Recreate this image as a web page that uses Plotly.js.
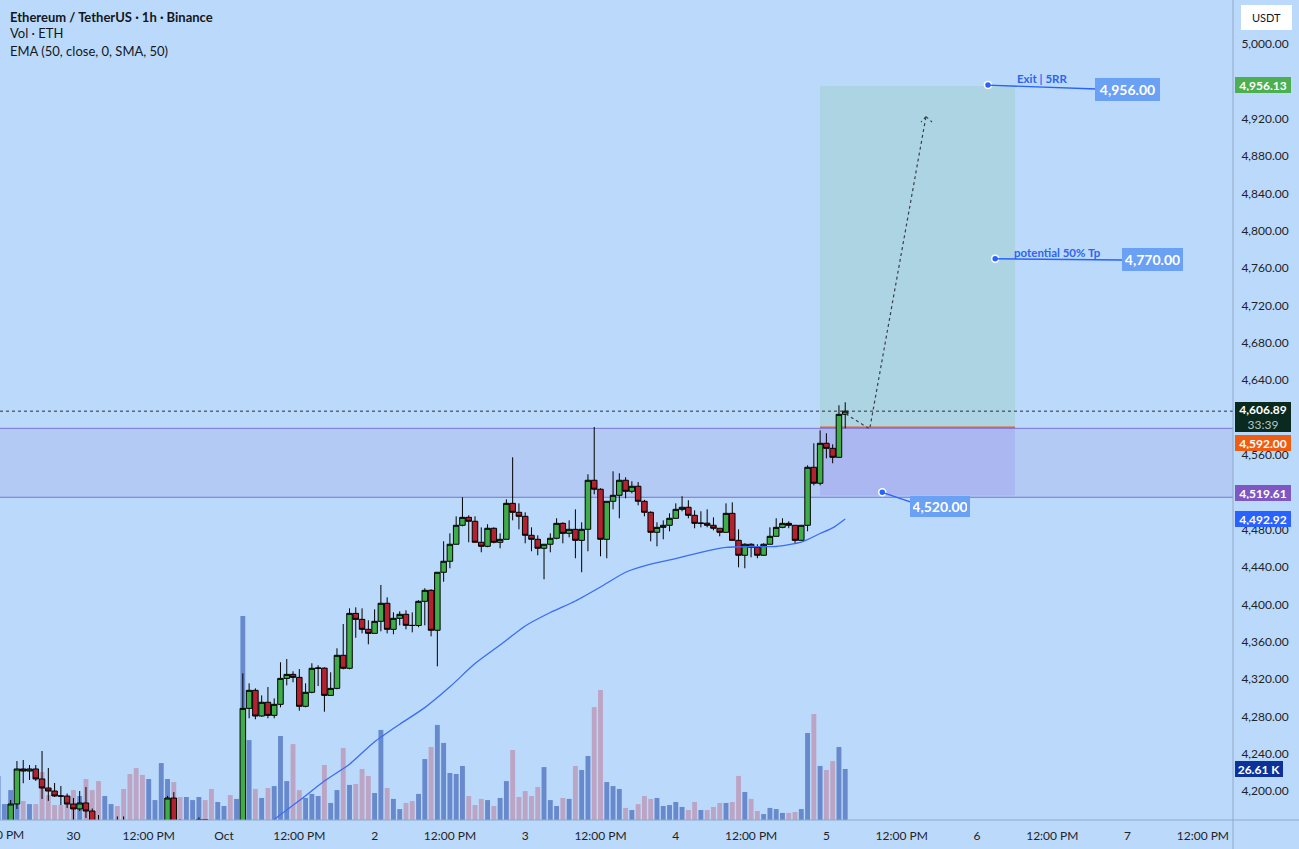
<!DOCTYPE html>
<html><head><meta charset="utf-8">
<script src="https://cdn.plot.ly/plotly-3.0.1.min.js"></script>
<style>html,body{margin:0;padding:0;background:#bbdafb;} #chart{width:1299px;height:849px;}</style>
</head><body><div id="chart"></div>
<script>
// ---------- DATA (ETH/USDT 1h, Binance) ----------
const firstHour = -36; // hours relative to 1 Oct 00:00 (first candle = 29 Sep 12:00)
const opens = [4140,4150,4163,4186.3,4223.8,4221.6,4223.8,4213.1,4203.4,4200.2,4194.9,4194.8,4186.3,4181.0,4187.4,4178.8,4150,4140,4150,4158,4148,4135,4125,4112,4105,4125,4135,4160,4192.7,4160,4150,4158,4163,4169.5,4160,4150,4158,4163,4155,4162,
4288.7,4308.0,4280.5,4295.2,4281.2,4293.0,4320.8,4325.1,4321.9,4290.9,4305.9,4331.6,4331.8,4302.6,4310.1,4345.5,4331.6,4390.4,4384.0,4373.3,4369.0,4381.9,4401.2,4373.3,4385.1,4389.4,4377.6,4377.4,4403.3,4415.1,4372.3,4434.4,4446.2,4464.4,4484.7,4493.2,4489.0,4466.5,4462.2,4481.5,4466.5,4469.7,4508.2,4498.6,4494.3,4474.0,4469.7,4460.1,4464.4,4470.8,4486.8,4476.1,4480.4,4468.6,4480.4,4532.9,4523.3,4469.7,4510.4,4516.8,4532.9,4521.1,4526.5,4510.4,4498.6,4477.2,4482.5,4484.7,4492.2,4501.8,4504.0,4495.4,4486.8,4487.0,4484.7,4481.5,4477.2,4497.5,4468.6,4452.6,4464.4,4461.2,4452.6,4464.4,4472.9,4482.5,4486.8,4484.7,4468.6,4484.7,4546.8,4529.7,4572.5,4567.1,4557.5,4603.5];
const highs = [4155,4168,4190.6,4232.3,4233.4,4228.0,4228.0,4243.0,4224.8,4208.8,4205.6,4197.5,4192.7,4200.2,4204.5,4181.5,4174.5,4160,4164,4173,4173,4140,4130,4120,4130,4140,4165,4195.0,4199.0,4170,4165,4167,4172,4170,4165,4163,4166,4167,4166,4326.2,
4315.5,4310.1,4302.6,4311.5,4299.4,4338.0,4341.5,4328.4,4330.8,4315.5,4337.0,4334.8,4332.6,4327.3,4353.0,4379.0,4395.8,4396.9,4395.8,4383.0,4394.7,4420.8,4407.6,4391.5,4392.6,4393.7,4391.5,4404.4,4417.3,4416.2,4434.4,4467.6,4476.1,4494.3,4514.7,4495.4,4494.3,4482.5,4485.8,4482.5,4476.1,4512.5,4557.5,4508.2,4498.6,4482.5,4474.0,4464.4,4476.1,4492.2,4487.9,4490.0,4501.8,4487.9,4539.3,4589.9,4524.3,4510.4,4542.5,4540.4,4536.1,4531.8,4531.0,4512.0,4499.7,4487.9,4490.0,4497.5,4508.2,4515.8,4511.5,4500.7,4499.7,4501.8,4493.2,4481.5,4508.2,4509.3,4480.4,4465.4,4465.4,4464.4,4465.4,4482.5,4492.2,4492.2,4489.0,4484.7,4484.7,4548.9,4572.5,4586.4,4583.2,4571.4,4613.2,4616.4];
const lows = [4135,4146,4158,4181.0,4208.5,4212.0,4211.0,4191.7,4189.6,4193.8,4185.2,4182.0,4160.0,4178.8,4171.3,4145,4130,4135,4145,4140,4125,4115,4100,4095,4100,4120,4130,4155,4150,4140,4145,4150,4158,4150,4140,4145,4150,4148,4150,4158,
4278.1,4277.0,4279.8,4278.1,4278.1,4289.8,4313.3,4316.6,4286.2,4289.8,4304.8,4312.6,4285.1,4302.6,4309.1,4330.5,4330.5,4364.3,4369.0,4357.3,4369.0,4371.2,4369.0,4368.0,4377.6,4373.3,4370.1,4375.5,4377.6,4365.8,4333.7,4424.3,4438.7,4464.4,4483.6,4466.5,4466.5,4455.8,4461.2,4465.4,4460.1,4469.7,4490.0,4480.4,4465.4,4456.9,4452.6,4426.9,4455.8,4469.7,4465.4,4471.8,4449.4,4434.4,4456.9,4517.9,4451.5,4449.4,4501.8,4492.2,4513.6,4519.0,4506.1,4494.3,4467.6,4462.2,4469.7,4478.3,4492.2,4499.7,4492.2,4481.5,4482.5,4482.5,4479.3,4472.9,4477.2,4468.6,4439.7,4438.7,4450.4,4449.4,4452.0,4464.4,4472.9,4481.5,4481.5,4465.4,4468.6,4478.3,4527.5,4527.5,4556.4,4551.1,4557.5,4588.5];
const closes = [4150,4163,4186.3,4223.8,4221.6,4223.8,4213.1,4203.4,4200.2,4194.9,4194.8,4186.3,4181.0,4187.4,4178.8,4150,4140,4150,4158,4148,4135,4125,4112,4105,4125,4135,4160,4192.7,4160,4150,4158,4163,4169.5,4160,4150,4158,4163,4155,4162,4288.7,
4308.0,4280.5,4295.2,4281.2,4293.0,4320.8,4325.1,4321.9,4290.9,4305.9,4331.6,4331.8,4302.6,4310.1,4345.5,4331.6,4390.4,4384.0,4373.3,4369.0,4381.9,4401.2,4373.3,4385.1,4389.4,4377.6,4377.4,4403.3,4415.1,4372.3,4434.4,4446.2,4464.4,4484.7,4493.2,4489.0,4466.5,4462.2,4481.5,4466.5,4469.7,4508.2,4498.6,4494.3,4474.0,4469.7,4460.1,4464.4,4470.8,4486.8,4476.1,4480.4,4468.6,4480.4,4532.9,4523.3,4469.7,4510.4,4516.8,4532.9,4521.1,4526.5,4510.4,4498.6,4477.2,4482.5,4484.7,4492.2,4501.8,4504.0,4495.4,4486.8,4487.0,4484.7,4481.5,4477.2,4497.5,4468.6,4452.6,4464.4,4461.2,4452.6,4464.4,4472.9,4482.5,4486.8,4484.7,4468.6,4484.7,4546.8,4529.7,4572.5,4567.1,4557.5,4603.5,4606.89];
const volumesK = [23.0,8.3,15.6,14.0,9.9,8.3,8.3,25.0,13.0,7.8,7.8,9.0,15.6,12.5,21.4,15.6,20.3,12.5,8.3,7.3,16.2,24.0,27.1,23.5,21.4,10.4,29.7,21.4,19.8,12.0,12.0,10.4,12.0,10.4,16.2,9.4,7.3,13.0,11.0,106.4,
41.7,16.2,11.5,16.7,17.7,43.8,20.3,39.6,15.6,11.5,13.6,12.5,28.7,8.9,15.6,37.6,18.3,18.8,26.6,23.0,14.1,47.0,16.7,11.0,5.7,8.9,9.9,13.6,31.8,38.1,49.6,40.2,24.5,24.0,28.2,12.5,7.8,11.0,10.4,7.3,11.5,20.3,36.5,12.0,15.1,12.5,17.2,27.6,10.4,7.3,11.5,11.0,28.2,26.1,33.4,58.9,67.8,19.8,17.7,16.2,6.3,5.2,8.3,12.5,11.0,11.5,7.3,7.8,9.4,6.8,5.2,9.4,5.2,5.2,6.8,8.9,8.9,9.4,23.0,14.6,11.0,4.7,3.1,6.3,5.7,3.7,3.7,4.2,5.7,45.4,55.3,28.2,26.1,30.8,38.1,26.61];
// EMA(50)
const emaHours  = [6,8,12,16,20,24,28,32,36,40,44,48,52,56,60,64,68,72,76,80,84,88,92,95,97,99];
const emaValues = [4158.5,4169.8,4190.0,4210.9,4228.9,4252.9,4271.7,4289.5,4311.8,4336.6,4356.5,4376.9,4391.3,4403.6,4418.6,4434.4,4443.0,4449.0,4455.8,4461.1,4461.8,4462.0,4466.6,4475.9,4481.9,4491.5];
// x ticks
const tickHours  = [-24,-12,0,12,24,36,48,60,72,84,96,108,120,132,144,156];
const tickLabels = ["30","12:00 PM","Oct","12:00 PM","2","12:00 PM","3","12:00 PM","4","12:00 PM","5","12:00 PM","6","12:00 PM","7","12:00 PM"];
// price ticks (4,600 and 4,520 sit fully behind the price tags, so they are not drawn)
const priceTicks = [4200,4240,4280,4320,4360,4400,4440,4480,4560,4640,4680,4720,4760,4800,4840,4880,4920,4960,5000];
// levels
const currentPrice = 4606.89, countdown = "33:39";
const entryLabel = 4592.00, bandLabel = 4519.61, emaLabel = 4492.92, volLabel = 26.61, targetLabel = 4956.13;
const bandTop = 4588.5, bandBottom = 4514.7;
const zoneStart = 94.98, zoneEnd = 126.06, zoneTarget = 4955.0, zoneEntry = 4589.6, zoneStop = 4516.5;
const exitLevel = 4956.00, tpLevel = 4770.00, stopLevel = 4520.00;
const arrowHours  = [99.1, 102.9, 111.87, null, 111.87, 111.08, null, 111.87, 112.83];
const arrowPrices = [4603.9, 4587.8, 4922.2, null, 4922.2, 4916.5, null, 4922.2, 4916.5];

// ---------- helpers ----------
const T0 = Date.UTC(2025, 9, 1, 0, 0, 0);
function hr(t){ return new Date(T0 + t*3600000).toISOString().slice(0,19).replace('T',' '); }
const times = opens.map((_, i) => hr(firstHour + i));
const volColors = opens.map((o, i) => closes[i] >= o ? '#6889cc' : '#bca5c4');
const FONT = 'Lato, "Noto Sans", sans-serif';

const traces = [
  {type:'bar', x:times, y:volumesK, marker:{color:volColors, line:{width:0}}, yaxis:'y', hoverinfo:'skip'},
  {type:'candlestick', x:times, open:opens, high:highs, low:lows, close:closes, yaxis:'y2',
   increasing:{fillcolor:'#3fac4a', line:{color:'#000', width:1}},
   decreasing:{fillcolor:'#b3222f', line:{color:'#000', width:1}}, whiskerwidth:0, hoverinfo:'skip'},
  {type:'scatter', mode:'lines', x:emaHours.map(hr), y:emaValues, yaxis:'y2', line:{color:'#3a6cf4', width:1.3, shape:'spline', smoothing:0.6}, hoverinfo:'skip'},
  {type:'scatter', mode:'lines', x:arrowHours.map(t => t === null ? null : hr(t)), y:arrowPrices, yaxis:'y2', connectgaps:false, line:{color:'#3b3f4a', width:1.2, dash:'dot'}, hoverinfo:'skip'},
  {type:'scatter', mode:'markers', x:[hr(121.75), hr(122.9), hr(104.9)], y:[exitLevel, tpLevel, stopLevel], yaxis:'y2',
   marker:{size:7, color:'#2962ff', line:{color:'#ffffff', width:1.5}}, hoverinfo:'skip'}
];

const shapes = [
  {type:'rect', xref:'paper', x0:0, x1:1, yref:'y2', y0:bandBottom, y1:bandTop, fillcolor:'rgba(126,87,194,0.12)', line:{width:0}, layer:'below'},
  {type:'line', xref:'paper', x0:0, x1:1, yref:'y2', y0:bandTop, y1:bandTop, line:{color:'#7b74d1', width:1}, layer:'below'},
  {type:'line', xref:'paper', x0:0, x1:1, yref:'y2', y0:bandBottom, y1:bandBottom, line:{color:'#7b74d1', width:1}, layer:'below'},
  {type:'rect', xref:'x', x0:hr(zoneStart), x1:hr(zoneEnd), yref:'y2', y0:zoneEntry, y1:zoneTarget, fillcolor:'rgba(120,190,130,0.2)', line:{width:0}, layer:'below'},
  {type:'rect', xref:'x', x0:hr(zoneStart), x1:hr(zoneEnd), yref:'y2', y0:zoneStop, y1:zoneEntry, fillcolor:'rgba(140,100,220,0.18)', line:{width:0}, layer:'below'},
  {type:'line', xref:'x', x0:hr(zoneStart), x1:hr(zoneEnd), yref:'y2', y0:zoneEntry, y1:zoneEntry, line:{color:'#f0611c', width:1.5}, layer:'below'},
  {type:'line', xref:'paper', x0:0, x1:1, yref:'y2', y0:currentPrice, y1:currentPrice, line:{color:'#2a2e39', width:1, dash:'dot'}, layer:'above'},
  {type:'line', xref:'x', yref:'y2', x0:hr(121.75), y0:exitLevel, x1:hr(139.0), y1:4951.8, line:{color:'#2962ff', width:1.4}},
  {type:'line', xref:'x', yref:'y2', x0:hr(122.9), y0:tpLevel, x1:hr(143.1), y1:4768.7, line:{color:'#2962ff', width:1.4}},
  {type:'line', xref:'x', yref:'y2', x0:hr(104.9), y0:stopLevel, x1:hr(109.6), y1:4509.3, line:{color:'#2962ff', width:1.4}},
  {type:'line', xref:'paper', yref:'paper', x0:1, x1:1, y0:-0.04, y1:1, line:{color:'#90a8c8', width:1}},
  {type:'line', xref:'paper', yref:'paper', x0:0, x1:1.06, y0:0, y1:0, line:{color:'#90a8c8', width:1}}
];

function tag(text, y, yref, bg, yshift, w, h){
  return {xref:'paper', x:1, xanchor:'left', xshift:2, yref:yref, y:y, yanchor:'middle', yshift:yshift||0,
    text:text, showarrow:false, bgcolor:bg, borderpad:2, borderwidth:0, width:w||52, height:h||12, align:'center',
    font:{family:FONT, size:12, color:'#ffffff', weight:'bold'}};
}
function fmt(v){ return v.toLocaleString('en-US', {minimumFractionDigits:2, maximumFractionDigits:2}); }
function note(text, t, y, yshift, w, h){
  return {xref:'x', yref:'y2', x:hr(t), y:y, yshift:yshift, xanchor:'center', yanchor:'middle', showarrow:false,
    text:text, bgcolor:'#6aa1f5', borderpad:3, borderwidth:0, width:w, height:h,
    font:{family:FONT, size:14, color:'#ffffff', weight:'bold'}};
}

const annotations = [
  {xref:'paper', yref:'paper', x:8/1233, y:1-17/820, xanchor:'left', yanchor:'middle', showarrow:false,
   text:'<b>Ethereum / TetherUS · 1h · Binance</b>', font:{family:FONT, size:13, color:'#131722'}},
  {xref:'paper', yref:'paper', x:8/1233, y:1-33/820, xanchor:'left', yanchor:'middle', showarrow:false,
   text:'Vol · ETH', font:{family:FONT, size:13, color:'#131722'}},
  {xref:'paper', yref:'paper', x:8/1233, y:1-51/820, xanchor:'left', yanchor:'middle', showarrow:false,
   text:'EMA (50, close, 0, SMA, 50)', font:{family:FONT, size:13, color:'#131722'}},
  {xref:'paper', yref:'paper', x:1266.5/1233, y:1-17/820, xanchor:'center', yanchor:'middle', showarrow:false,
   text:'USDT', bgcolor:'#ffffff', width:45, height:19, borderpad:3, borderwidth:0, font:{family:FONT, size:11, color:'#131722'}},
  {xref:'paper', yref:'paper', x:-1.9/1233, y:-14/820, xanchor:'center', yanchor:'middle', showarrow:false,
   text:'12:00 PM', font:{family:FONT, size:12, color:'#1f2229'}},
  tag(fmt(targetLabel), targetLabel, 'y2', '#4caf50', 0),
  tag(fmt(currentPrice) + '<br><span style="color:#b9c4c0;font-weight:normal">' + countdown + '</span>', currentPrice, 'y2', '#0a2a20', -6, 52, 26),
  tag(fmt(entryLabel), entryLabel, 'y2', '#ee5d12', -18),
  tag(fmt(bandLabel), bandLabel, 'y2', '#7e57c2', 0),
  tag(fmt(emaLabel), emaLabel, 'y2', '#2962ff', -1),
  tag(volLabel.toFixed(2) + ' K', volLabel, 'y', '#0c3299', 0, 44, 12),
  {xref:'x', yref:'y2', x:hr(130.4), y:4963.6, showarrow:false, text:'<b>Exit | 5RR</b>', font:{family:FONT, size:11.5, color:'#2e64f0'}},
  {xref:'x', yref:'y2', x:hr(132.9), y:4777.3, showarrow:false, text:'<b>potential 50% Tp</b>', font:{family:FONT, size:11.5, color:'#2e64f0'}},
  note(fmt(exitLevel), 144.0, exitLevel, -4, 59, 17),
  note(fmt(tpLevel), 148.0, tpLevel, -1, 55, 17),
  note(fmt(stopLevel), 114.1, stopLevel, -14, 54, 15)
];

const layout = {
  width:1299, height:849, margin:{l:0, r:66, t:0, b:29, pad:0},
  paper_bgcolor:'#bbdafb', plot_bgcolor:'#bbdafb', showlegend:false, bargap:0.22,
  boxgap:0.12, boxgroupgap:0,
  font:{family:FONT, size:12, color:'#1f2229'},
  xaxis:{type:'date', range:[hr(-35.70), hr(160.80)], tickmode:'array', tickvals:tickHours.map(hr), ticktext:tickLabels,
    ticks:'outside', ticklen:5, tickcolor:'rgba(0,0,0,0)', showgrid:false, zeroline:false, showline:false,
    rangeslider:{visible:false}, fixedrange:true, tickfont:{family:FONT, size:12, color:'#1f2229'}},
  yaxis:{range:[0, 427.75], visible:false, fixedrange:true, showgrid:false, zeroline:false},
  yaxis2:{overlaying:'y', side:'right', anchor:'x', range:[4169.17, 5047.11], tickmode:'array', tickvals:priceTicks, tickformat:',.2f',
    ticks:'outside', ticklen:5, tickcolor:'rgba(0,0,0,0)', showgrid:false, zeroline:false, showline:false, fixedrange:true,
    tickfont:{family:FONT, size:12, color:'#1f2229'}},
  shapes:shapes, annotations:annotations
};

Plotly.newPlot('chart', traces, layout, {staticPlot:true, displayModeBar:false});
</script></body></html>
